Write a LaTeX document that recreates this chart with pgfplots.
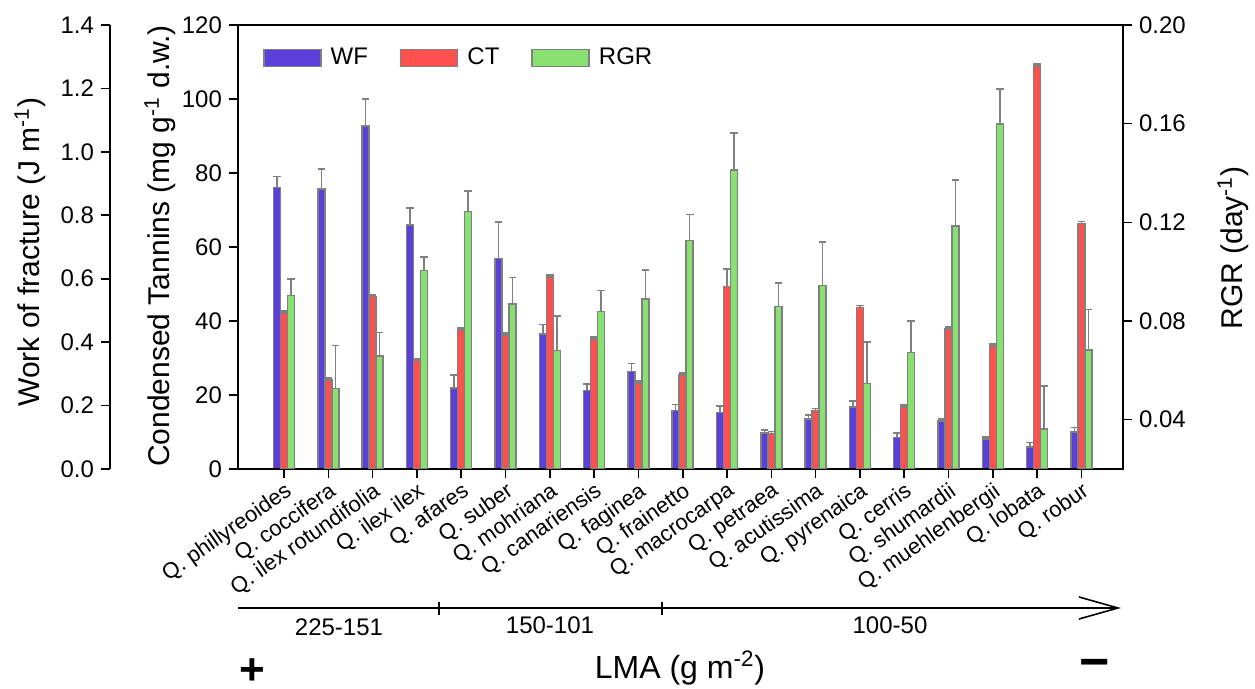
\documentclass[border=0pt]{standalone}
\usepackage{fontspec}
\setmainfont{Liberation Sans}
\usepackage{pgfplots}
\usepackage{pgfplotstable}
\pgfplotsset{compat=1.18}

\definecolor{wfblue}{RGB}{90,64,216}
\definecolor{ctred}{RGB}{255,80,80}
\definecolor{rgrgreen}{RGB}{136,224,112}
\definecolor{edge}{RGB}{128,128,128}

% species ordered by LMA; WF in J m-1, CT in mg g-1, RGR in day-1 (mean, SE)
\pgfplotstableread{
x  wf    wfe    ct     cte  rgr     rgre
0  0.888 0.034  42.2   0.5  0.0903  0.0068
1  0.883 0.062  24.1   0.5  0.0527  0.0173
2  1.082 0.085  46.6   0.5  0.0658  0.0096
3  0.770 0.053  29.3   0.5  0.1004  0.0055
4  0.256 0.040  37.6   0.5  0.1243  0.0085
5  0.663 0.115  36.2   0.5  0.0869  0.0107
6  0.426 0.030  51.9   0.5  0.0681  0.0139
7  0.247 0.021  35.1   0.5  0.0838  0.0085
8  0.307 0.026  23.3   0.5  0.0890  0.0117
9  0.184 0.019  25.4   0.5  0.1126  0.0105
10 0.178 0.021  49.3   4.7  0.1412  0.0149
11 0.113 0.010  9.6    0.5  0.0858  0.0097
12 0.157 0.013  15.8   0.5  0.0943  0.0177
13 0.196 0.019  43.7   0.5  0.0547  0.0169
14 0.100 0.013  16.8   0.5  0.0673  0.0127
15 0.152 0.006  37.8   0.5  0.1185  0.0187
16 0.095 0.005  33.2   0.5  0.1599  0.0142
17 0.070 0.014  108.9  0.5  0.0363  0.0173
18 0.116 0.015  66.4   0.5  0.0682  0.0165
}\quercus

\pgfplotsset{
  frame/.style={at={(119pt,110pt)}, anchor=south west, scale only axis,
    width=442.5pt, height=222pt, xmin=-1.04, xmax=18.94},
  ticks/.style={tick align=outside, major tick length=4.5pt,
    axis line style={line width=1pt},
    every tick/.style={black, line width=0.8pt},
    tick label style={font=\fontsize{12}{14}\selectfont}},
  bars/.style={ybar, bar width=3.5pt, bar shift=0pt, draw=edge, line width=0.75pt,
    error bars/y dir=plus, error bars/y explicit,
    error bars/error bar style={edge, line width=0.75pt},
    error bars/error mark options={rotate=90, edge, mark size=1.9pt, line width=0.8pt}},
}
% offset of the side bars, in category units (one bar width)
\def\dx{0.158}

\begin{document}
\begin{tikzpicture}
\useasboundingbox (0,0) rectangle (627.5pt,344.5pt);

% WF scale on the far left
\begin{axis}[at={(55pt,110pt)}, anchor=south west, scale only axis,
  width=1pt, height=222pt, xmin=0, xmax=1, ymin=0, ymax=1.4,
  hide x axis, axis y line*=left, ticks,
  ytick={0,0.2,0.4,0.6,0.8,1.0,1.2,1.4},
  yticklabels={0.0,0.2,0.4,0.6,0.8,1.0,1.2,1.4}]
\end{axis}

% WF bars
\begin{axis}[frame, hide axis, ymin=0, ymax=1.4]
\addplot[bars, fill=wfblue]
  table[x expr=\thisrow{x}-\dx, y=wf, y error=wfe] {\quercus};
\end{axis}

% CT bars and main frame
\begin{axis}[frame, ticks, ymin=0, ymax=120,
  ytick={0,20,40,60,80,100,120},
  yticklabels={0,20,40,60,80,100,120},
  ytick pos=left, xtick pos=bottom,
  xtick={0,...,18},
  xticklabels={Q. phillyreoides, Q. coccifera, Q. ilex rotundifolia, Q. ilex ilex,
    Q. afares, Q. suber, Q. mohriana, Q. canariensis, Q. faginea, Q. frainetto,
    Q. macrocarpa, Q. petraea, Q. acutissima, Q. pyrenaica, Q. cerris,
    Q. shumardii, Q. muehlenbergii, Q. lobata, Q. robur},
  xticklabel style={rotate=35, anchor=north east, inner sep=1pt,
    font=\fontsize{11}{13}\selectfont}]
\addplot[bars, fill=ctred]
  table[x=x, y=ct, y error=cte] {\quercus};
\end{axis}

% RGR bars, right axis and legend
\begin{axis}[frame, ticks, ymin=0.02, ymax=0.20,
  hide x axis, axis y line*=right,
  ytick={0.04,0.08,0.12,0.16,0.20},
  yticklabels={0.04,0.08,0.12,0.16,0.20},
  legend image code/.code={
    \draw[#1] (0pt,-4.25pt) rectangle (28.5pt,4.25pt);
    \path (31pt,0pt);},
  legend columns=3,
  legend style={draw=none, fill=none, inner sep=0pt,
    at={(0.028,0.926)}, anchor=west,
    font=\fontsize{12}{14}\selectfont,
    /tikz/every even column/.append style={column sep=14pt}}]
\addlegendimage{fill=wfblue, draw=edge, line width=0.75pt}
\addlegendentry{WF}
\addlegendimage{fill=ctred, draw=edge, line width=0.75pt}
\addlegendentry{CT}
\addlegendimage{fill=rgrgreen, draw=edge, line width=0.75pt}
\addlegendentry{RGR}
\addplot[bars, fill=rgrgreen, forget plot]
  table[x expr=\thisrow{x}+\dx, y=rgr, y error=rgre] {\quercus};
\end{axis}

% axis titles
\node[rotate=90, font=\fontsize{15}{18}\selectfont] at (15pt,218.5pt)
  {Work of fracture (J m\textsuperscript{-1})};
\node[rotate=90, font=\fontsize{15}{18}\selectfont] at (80pt,221.5pt)
  {Condensed Tannins (mg g\textsuperscript{-1} d.w.)};
\node[rotate=90, font=\fontsize{15}{18}\selectfont] at (616.5pt,220.5pt)
  {RGR (day\textsuperscript{-1})};

% LMA gradient arrow
\draw[line width=0.8pt] (119pt,40.5pt) -- (559pt,40.5pt);
\draw[line width=0.8pt] (539.5pt,46pt) -- (559pt,40.5pt) -- (539.5pt,35pt);
\draw[line width=0.6pt] (219.5pt,43.5pt) -- (219.5pt,37pt);
\draw[line width=0.6pt] (331pt,43.5pt) -- (331pt,37pt);
\node[font=\fontsize{12}{14}\selectfont] at (169.5pt,31pt) {225-151};
\node[font=\fontsize{12}{14}\selectfont] at (275pt,32pt) {150-101};
\node[font=\fontsize{12}{14}\selectfont] at (445pt,32pt) {100-50};
\node[font=\fontsize{16}{19}\selectfont] at (340pt,10.5pt) {LMA (g m\textsuperscript{-2})};
\node[inner sep=0pt, font=\fontsize{22}{26}\selectfont\bfseries] at (126pt,8.5pt) {+};
\node[inner sep=0pt, font=\fontsize{26}{30}\selectfont\bfseries] at (547.5pt,10pt) {−};
\end{tikzpicture}
\end{document}
